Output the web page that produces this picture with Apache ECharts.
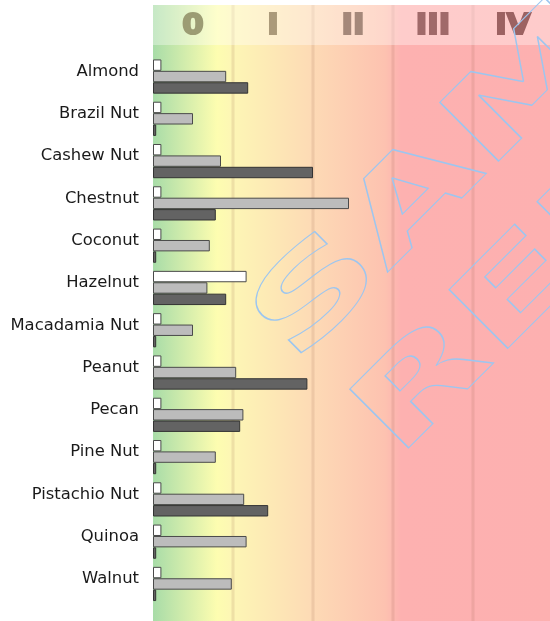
<!DOCTYPE html>
<html>
<head>
<meta charset="utf-8">
<script src="https://cdn.jsdelivr.net/npm/echarts@6/dist/echarts.min.js"></script>
<style>
  html, body { margin: 0; padding: 0; background: #fff; }
  #main { width: 550px; height: 621px; }
</style>
</head>
<body>
<div id="main"></div>
<script>
  // categories, top to bottom
  var categories = ['Almond', 'Brazil Nut', 'Cashew Nut', 'Chestnut', 'Coconut', 'Hazelnut',
    'Macadamia Nut', 'Peanut', 'Pecan', 'Pine Nut', 'Pistachio Nut', 'Quinoa', 'Walnut'];

  // values in class units (1 = one class width)
  var whiteValues = [0.105, 0.105, 0.105, 0.105, 0.105, 1.17, 0.105, 0.105, 0.105, 0.105, 0.105, 0.105, 0.105];
  var grayValues  = [0.915, 0.50, 0.85, 2.45, 0.71, 0.68, 0.50, 1.04, 1.13, 0.785, 1.14, 1.17, 0.985];
  var darkValues  = [1.19, 0.04, 2.0, 0.785, 0.04, 0.915, 0.04, 1.93, 1.09, 0.04, 1.44, 0.04, 0.04];

  // class bands
  var classBounds = [0, 1, 2, 3, 4, 5];
  var classLabels = ['0', 'I', 'II', 'III', 'IV'];
  var classColors = ['#9c9c74', '#ab9a7a', '#a5887a', '#a06a6a', '#9c6262'];

  var chart = echarts.init(document.getElementById('main'));

  var barStyle = function (fill, border) {
    return { color: fill, borderColor: border, borderWidth: 1 };
  };

  var option = {
    animation: false,
    grid: { left: 153, right: 0, top: 55.4, bottom: 15.9 },
    xAxis: {
      type: 'value',
      min: 0,
      max: 4.9625,
      show: false
    },
    yAxis: {
      type: 'category',
      data: categories,
      inverse: true,
      axisLine: { show: false },
      axisTick: { show: false },
      axisLabel: {
        margin: 14,
        fontFamily: 'DejaVu Sans',
        fontSize: 16.4,
        color: '#1a1a1a',
        verticalAlign: 'bottom',
        lineHeight: 10
      }
    },
    series: [
      { type: 'bar', data: whiteValues, barWidth: 11.4, barGap: '0%', itemStyle: barStyle('#ffffff', '#4a4a4a') },
      { type: 'bar', data: grayValues, barWidth: 11.4, barGap: '0%', itemStyle: barStyle('#bcbcbc', '#4a4a4a') },
      { type: 'bar', data: darkValues, barWidth: 11.4, barGap: '0%', itemStyle: barStyle('#636363', '#333333') }
    ]
  };
  chart.setOption(option);

  // background bands, header, watermark
  var px = classBounds.map(function (v) { return chart.convertToPixel({ xAxisIndex: 0 }, v); });
  var graphics = [];

  graphics.push({
    type: 'rect', z: -10, silent: true,
    shape: { x: px[0], y: 5, width: px[5] - px[0], height: 616 },
    style: {
      fill: new echarts.graphic.LinearGradient(0, 0, 1, 0, [
        { offset: 0, color: '#a8dca8' },
        { offset: 0.16, color: '#fdfdb0' },
        { offset: 0.2, color: '#fdf6b5' },
        { offset: 0.4, color: '#fddab5' },
        { offset: 0.58, color: '#fdc2b0' },
        { offset: 0.62, color: '#fdb1b0' },
        { offset: 1, color: '#fdb0b0' }
      ])
    }
  });

  for (var i = 1; i < px.length - 1; i++) {
    graphics.push({
      type: 'rect', z: -9, silent: true,
      shape: { x: px[i] - 1.5, y: 5, width: 3, height: 616 },
      style: { fill: 'rgba(150,90,70,0.14)' }
    });
  }

  graphics.push({
    type: 'rect', z: -8, silent: true,
    shape: { x: px[0], y: 5, width: px[5] - px[0], height: 40 },
    style: { fill: 'rgba(255,255,255,0.35)' }
  });

  classLabels.forEach(function (lab, k) {
    graphics.push({
      type: 'text', z: 5, silent: true,
      x: (px[k] + px[k + 1]) / 2, y: 27,
      scaleX: 1.1,
      style: {
        text: lab, fontFamily: 'DejaVu Sans', fontWeight: 'bold', fontSize: 28,
        fill: classColors[k], stroke: classColors[k], lineWidth: 2,
        align: 'center', verticalAlign: 'middle'
      }
    });
  });

  var wmLines = [
    { text: 'SAMPLE', x: 313.5, y: 385 },
    { text: 'REPORT', x: 416, y: 479 }
  ];
  wmLines.forEach(function (w) {
    graphics.push({
      type: 'text', z: 50, silent: true,
      x: w.x, y: w.y, rotation: Math.PI / 4, scaleX: 1.6,
      style: {
        text: w.text, fontFamily: 'DejaVu Sans', fontWeight: 'bold', fontSize: 114,
        fill: 'none', stroke: '#9cc6f0', lineWidth: 1,
        align: 'left', verticalAlign: 'bottom'
      }
    });
  });

  chart.setOption({ graphic: graphics });
</script>
</body>
</html>
